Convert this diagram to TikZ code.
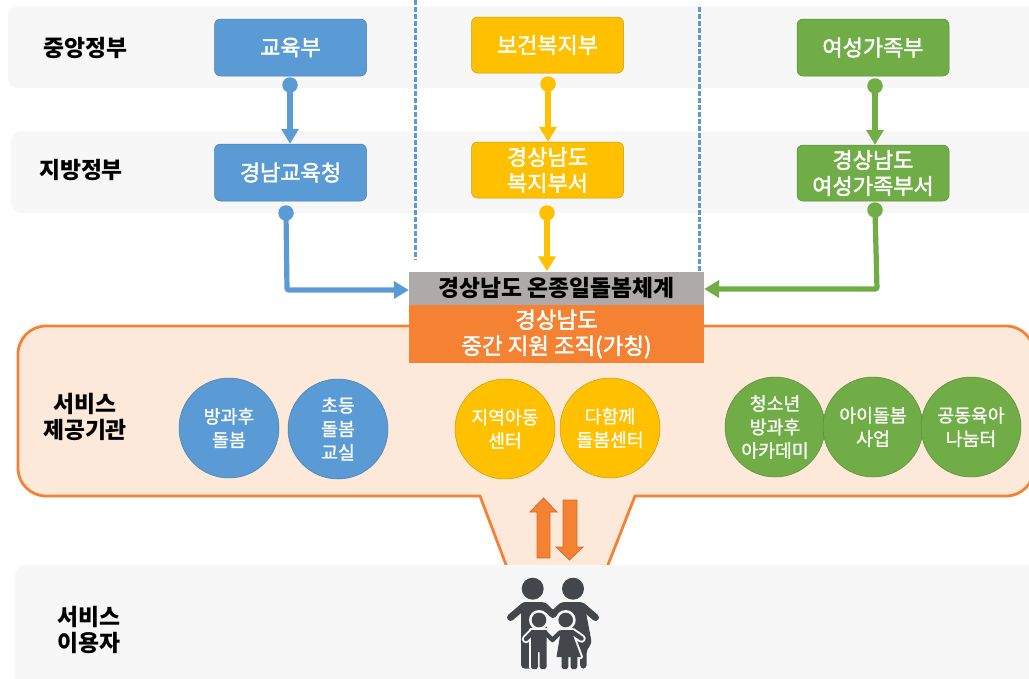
\documentclass[tikz,border=0pt]{standalone}
\usepackage{fontspec}
\setmainfont{Noto Sans CJK KR}
\newfontfamily\medf[FakeBold=2]{Noto Sans CJK KR}
\newfontfamily\lightf[FakeBold=1]{Noto Sans CJK KR}
\usetikzlibrary{arrows.meta}
\definecolor{cblue}{HTML}{5B9BD5}
\definecolor{cyel}{HTML}{FFC000}
\definecolor{cgrn}{HTML}{70AD47}
\definecolor{corg}{HTML}{F58233}
\definecolor{cband}{HTML}{F7F7F7}
\definecolor{cpeach}{HTML}{FDE9DA}
\definecolor{cgray}{HTML}{AEAAAA}
\definecolor{cicon}{HTML}{43464B}
\tikzset{
  x=1pt,y=-1pt,
  band/.style={fill=cband,draw=none,rounded corners=10},
  bx/.style={draw=#1!80!black,line width=.5pt,fill=#1,rounded corners=6,text=white,minimum width=152pt,align=center,inner sep=0pt,font=\medf\fontsize{22}{26}\selectfont},
  rnd/.style={circle,draw=#1!80!black,line width=.5pt,fill=#1,text=white,minimum size=100pt,inner sep=0pt,align=center,font=\lightf\fontsize{18.3}{23.5}\selectfont},
  dot/.style={circle,fill=#1,draw=none,minimum size=15.5pt,inner sep=0pt},
  conn/.style={draw=#1,line width=5.2pt,-{Triangle[length=15pt,width=17pt]}},
  lbl/.style={text=black,align=center,inner sep=0pt,font=\fontsize{22.8}{26}\selectfont\bfseries},
  vdash/.style={draw=cblue,line width=2.4pt,dash pattern=on 4.5pt off 2.5pt},
  blockar/.style={fill=corg,draw=corg!85!black,line width=.8pt},
  ic/.style={draw=cicon,line width=#1,line cap=round,line join=round},
  kidhalo/.style={fill=cband,draw=cband,line width=4pt,line join=round},
  armhalo/.style={draw=cband,line width=8.5pt,line cap=round,line join=round},
}
\def\boypath{(531,630) -- (546.5,630) -- (546.5,667) -- (545,669) -- (541,669) -- (539.7,667) -- (539.7,652) -- (537.8,652) -- (537.8,667) -- (536.5,669) -- (532.5,669) -- (531,667) -- cycle}
\def\girlpath{(561,630) -- (571,630) -- (581,657) -- (577.3,657) -- (577.3,667) -- (576,669) -- (572,669) -- (570.7,667) -- (570.7,657) -- (568.3,657) -- (568.3,667) -- (567,669) -- (563,669) -- (561.7,667) -- (561.7,657) -- (556.5,657) -- cycle}
\def\armspath{(526,639) -- (533,632) (544.5,632) -- (552.5,640) -- (560,632.5) (572,632) -- (581.5,638.5)}
\begin{document}
\begin{tikzpicture}
\useasboundingbox (0,0) rectangle (1029,678);
% bands
\fill[band] (8,6) rectangle (1045,88);
\fill[band] (11,131) rectangle (1045,213);
% callout
\path[fill=cpeach,draw=corg,line width=2.8pt,rounded corners=0]
  (46,326) -- (1006,326) arc[start angle=-90,end angle=0,radius=28] -- (1034,468)
  arc[start angle=0,end angle=90,radius=28] -- (635,496) -- (606,570) -- (508,570) -- (480,496) -- (46,496)
  arc[start angle=90,end angle=180,radius=28] -- (18,354) arc[start angle=180,end angle=270,radius=28] -- cycle;
\fill[band] (15,565) rectangle (1045,690);
% dashed
\coordinate (da) at (415.5,0); \coordinate (db) at (415.5,260);
\coordinate (dc) at (699.5,7); \coordinate (dd) at (699.5,272);
\draw[vdash] (da) -- (db);
\draw[vdash] (dc) -- (dd);
% boxes
\node[bx=cblue,minimum height=57pt] (edu) at (290.5,47.5) {교육부};
\node[bx=cyel,minimum height=56pt] (health) at (547.5,45) {보건복지부};
\node[bx=cgrn,minimum height=57pt] (women) at (873,47.5) {여성가족부};
\node[bx=cblue,minimum height=57pt] (gedu) at (290.5,172.5) {경남교육청};
\node[bx=cyel,minimum height=56pt] (ghealth) at (547.5,170) {경상남도\\복지부서};
\node[bx=cgrn,minimum height=56pt] (gwomen) at (873,173) {경상남도\\여성가족부서};
% central
\node[fill=cgray,minimum width=295pt,minimum height=33pt,inner sep=0pt,font=\fontsize{22.8}{26}\selectfont\bfseries,text=black] (sys) at (556.5,288) {경상남도 온종일돌봄체계};
\node[fill=corg,minimum width=295pt,minimum height=58pt,inner sep=0pt,align=center,font=\medf\fontsize{22.4}{26}\selectfont,text=white] (org) at (556.5,334) {경상남도\\중간 지원 조직(가칭)};
% dots
\node[dot=cblue] (d1) at (290,85) {};
\node[dot=cyel] (d2) at (548,84) {};
\node[dot=cgrn] (d3) at (875,86) {};
\node[dot=cblue] (d4) at (286,213) {};
\node[dot=cyel] (d5) at (547,213) {};
\node[dot=cgrn] (d6) at (875,210) {};
% connectors
\draw[conn=cblue] (d1.center) -- (gedu.north -| d1);
\draw[conn=cyel] (d2.center) -- (ghealth.north -| d2);
\draw[conn=cgrn] (d3.center) -- (gwomen.north -| d3);
\coordinate (k4) at (287,290); \coordinate (k6) at (877,289);
\draw[conn=cblue,rounded corners=2] (d4.center) -- (k4) -- (k4 -| sys.west);
\draw[conn=cyel] (d5.center) -- (sys.north -| d5);
\draw[conn=cgrn,rounded corners=2] (d6.center) -- (k6) -- (k6 -| sys.east);
% labels
\node[lbl] (l1) at (85.5,48) {중앙정부};
\node[lbl] (l2) at (81,170) {지방정부};
\node[lbl] (l3) at (85,417) {서비스\\제공기관};
\node[lbl] (l4) at (89,630) {서비스\\이용자};
% circles
\node[rnd=cblue] (c1) at (229,428) {방과후\\돌봄};
\node[rnd=cblue] (c2) at (338,429) {초등\\돌봄\\교실};
\node[rnd=cyel] (c3) at (505,429) {지역아동\\센터};
\node[rnd=cyel] (c4) at (610,428) {다함께\\돌봄센터};
\node[rnd=cgrn] (c5) at (775,427) {청소년\\방과후\\아카데미};
\node[rnd=cgrn] (c6) at (873,427) {아이돌봄\\사업};
\node[rnd=cgrn] (c7) at (971,427) {공동육아\\나눔터};
% block arrows
\path[blockar] (543.5,498) -- (557,512) -- (550,512) -- (550,558) -- (537,558) -- (537,512) -- (530,512) -- cycle;
\path[blockar] (569.5,560) -- (583,547) -- (577,547) -- (577,500) -- (563,500) -- (563,547) -- (556,547) -- cycle;
% family icon: adults
\fill[cicon] (532.7,588.7) circle[radius=11];
\fill[cicon] (573,588.7) circle[radius=11];
\fill[cicon,rounded corners=4] (521,602) -- (546,602) -- (548,668.7) -- (521,668.7) -- cycle;
\fill[cicon,rounded corners=4] (560,602) -- (584,602) -- (592,644) -- (586.7,649) -- (586.7,668.7) -- (580,668.7) -- (580,650) -- (560,648) -- cycle;
\draw[ic=7pt] (524,606) -- (510.5,617.5);
\draw[ic=7pt] (544,606) -- (553,614.5) -- (562,606);
\draw[ic=7pt] (582,606) -- (595.5,617.5);
% children halos
\fill[cband] (539,620) circle[radius=10];
\fill[cband] (565.7,620) circle[radius=10];
\draw[armhalo] \armspath;
\path[kidhalo] \boypath;
\path[kidhalo] \girlpath;
% children
\fill[cicon] (539,620) circle[radius=7.3];
\fill[cicon] (565.7,620) circle[radius=7.3];
\draw[ic=4.5pt] \armspath;
\fill[cicon] \boypath;
\fill[cicon] \girlpath;
\end{tikzpicture}
\end{document}
